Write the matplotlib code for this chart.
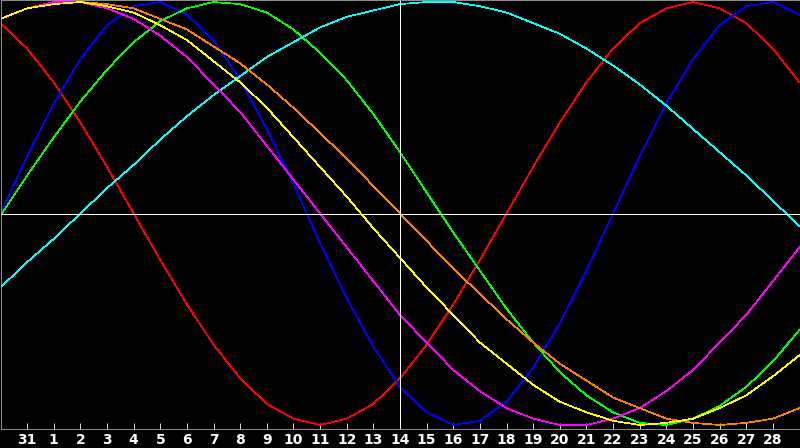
import matplotlib
matplotlib.use("Agg")
import matplotlib.pyplot as plt

# day labels for each plotted point (30 of last month ... 29)
days = ["30", "31"] + [str(d) for d in range(1, 30)]

red = [0.90, 0.78, 0.62, 0.43, 0.22, 0.00, -0.22, -0.43, -0.62, -0.78, -0.90,
       -0.97, -1.00, -0.97, -0.90, -0.78, -0.62, -0.43, -0.22, 0.00, 0.22,
       0.43, 0.62, 0.78, 0.90, 0.97, 1.00, 0.97, 0.90, 0.78, 0.62]
blue = [0.00, 0.27, 0.52, 0.73, 0.89, 0.98, 1.00, 0.94, 0.82, 0.63, 0.40,
        0.14, -0.14, -0.40, -0.63, -0.82, -0.94, -1.00, -0.98, -0.89, -0.73,
        -0.52, -0.27, 0.00, 0.27, 0.52, 0.73, 0.89, 0.98, 1.00, 0.94]
green = [-0.01, 0.18, 0.36, 0.53, 0.68, 0.81, 0.91, 0.97, 1.00, 0.99, 0.95,
         0.87, 0.76, 0.63, 0.47, 0.29, 0.10, -0.09, -0.27, -0.45, -0.61,
         -0.75, -0.86, -0.94, -0.99, -1.00, -0.97, -0.91, -0.82, -0.70, -0.55]
cyan = [-0.35, -0.23, -0.12, 0.00, 0.12, 0.23, 0.35, 0.46, 0.56, 0.65, 0.74,
        0.81, 0.88, 0.93, 0.96, 0.99, 1.00, 1.00, 0.98, 0.95, 0.90,
        0.85, 0.78, 0.70, 0.61, 0.51, 0.40, 0.29, 0.18, 0.06, -0.06]
magenta = [0.92, 0.97, 1.00, 1.00, 0.97, 0.92, 0.84, 0.74, 0.61, 0.48, 0.32,
           0.16, 0.00, -0.16, -0.32, -0.48, -0.61, -0.74, -0.84, -0.92, -0.97,
           -1.00, -1.00, -0.97, -0.92, -0.84, -0.74, -0.61, -0.48, -0.32, -0.16]
yellow = [0.92, 0.97, 0.99, 1.00, 0.98, 0.95, 0.89, 0.82, 0.72, 0.62, 0.50,
          0.36, 0.22, 0.08, -0.07, -0.21, -0.35, -0.48, -0.61, -0.71, -0.81,
          -0.89, -0.94, -0.98, -1.00, -0.99, -0.97, -0.92, -0.86, -0.77, -0.67]
orange = [0.92, 0.97, 0.99, 1.00, 0.99, 0.97, 0.92, 0.87, 0.79, 0.71, 0.61,
          0.50, 0.38, 0.26, 0.13, 0.00, -0.13, -0.26, -0.38, -0.50, -0.61,
          -0.71, -0.79, -0.87, -0.92, -0.97, -0.99, -1.00, -0.99, -0.97, -0.92]

curves = [
    (red, "#ff0000"),
    (blue, "#0000ff"),
    (green, "#00ff00"),
    (cyan, "#00ffff"),
    (magenta, "#ff00ff"),
    (orange, "#ff8000"),
    (yellow, "#ffff00"),
]
today = 15  # index of the day marked by the vertical line

fig = plt.figure(figsize=(8, 4.48), dpi=100, facecolor="black")
ax = fig.add_axes([0.5 / 800, 19.5 / 448, 799 / 800, 428 / 448])
ax.set_facecolor("black")

x = list(range(len(days)))
for vals, col in curves:
    ax.plot(x, vals, color=col, lw=0.5, antialiased=False)

ax.axhline(0, color="white", lw=0.5, antialiased=False)
ax.axvline(today, color="white", lw=0.5, antialiased=False)

ax.set_xlim(0, len(days) - 1)
ax.set_ylim(-1.0165, 1.0071)

for s in ax.spines.values():
    s.set_color("#a8a8a8")
    s.set_linewidth(0.6)

ax.set_yticks([])
ax.set_xticks(x[1:-1])
ax.set_xticklabels(days[1:-1], fontweight="bold")
ax.tick_params(axis="x", direction="in", length=4, width=0.6, color="white",
               labelcolor="white", labelsize=10, pad=3)

fig.savefig("out.png", dpi=100, facecolor="black")
